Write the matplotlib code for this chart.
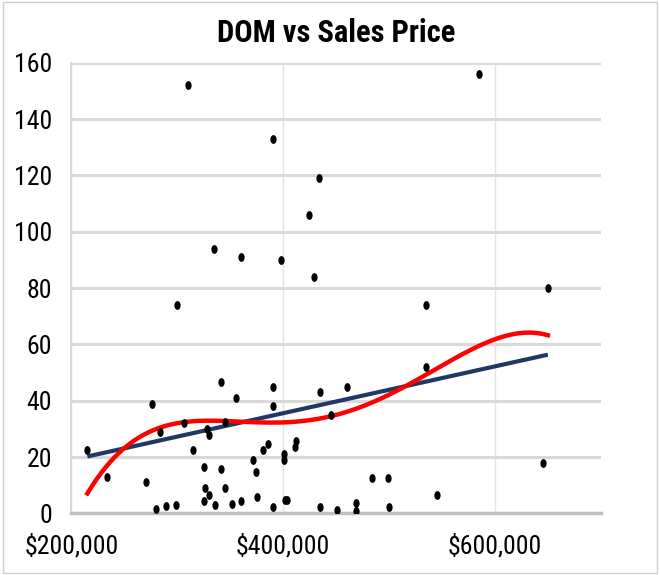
import os
import numpy as np
import matplotlib
matplotlib.use("Agg")
import matplotlib.pyplot as plt
from matplotlib import font_manager as fm
from matplotlib.ticker import FuncFormatter
from matplotlib.patches import Rectangle
from matplotlib.markers import MarkerStyle
from matplotlib.transforms import Affine2D


def pick_font(names):
    files = {os.path.basename(f.fname).lower(): f.fname for f in fm.fontManager.ttflist}
    for n in names:
        if n.lower() in files:
            return fm.FontProperties(fname=files[n.lower()])
    return None


reg_fp = pick_font(["LiberationSansNarrow-Regular.ttf", "ArialNarrow.ttf", "arialn.ttf",
                    "RobotoCondensed-Regular.ttf", "ArchivoNarrow-Regular.ttf",
                    "PTSansNarrow-Regular.ttf", "IBMPlexSansCondensed-Regular.ttf",
                    "FiraSansCondensed-Regular.ttf"])
bold_fp = pick_font(["LiberationSansNarrow-Bold.ttf", "ArialNarrowBold.ttf", "arialnb.ttf",
                     "RobotoCondensed-Bold.ttf", "ArchivoNarrow-Bold.ttf",
                     "PTSansNarrow-Bold.ttf", "IBMPlexSansCondensed-Bold.ttf",
                     "FiraSansCondensed-Bold.ttf"])
if reg_fp is None:
    reg_fp = fm.FontProperties(family='Liberation Sans')
if bold_fp is None:
    bold_fp = fm.FontProperties(family='Liberation Sans', weight='bold')

title = "DOM vs Sales Price"
price = [215000, 234000, 270000, 276000, 280000, 289000, 299000, 306000, 315000, 325000,
         325000, 326000, 328000, 330000, 330000, 336000, 341000, 341000, 345000, 345000,
         352000, 355000, 360000, 371000, 374000, 375000, 381000, 386000, 390000, 390000,
         390000, 401000, 401000, 402000, 404000, 411000, 412000, 435000, 435000, 445000,
         451000, 460000, 469000, 469000, 484000, 499000, 500000, 535000, 545000, 645000,
         284000, 310000, 585000, 390000, 434000, 424000, 335000, 360000, 398000, 429000,
         650000, 300000, 535000]
dom = [22.5, 13, 11, 39, 1.5, 2.5, 3, 32, 22.5, 16.5,
       4.6, 9, 30, 28, 6.5, 3, 46.6, 15.7, 9, 32.6,
       3.3, 41, 4.6, 19, 14.7, 5.7, 22.7, 24.8, 45, 38,
       2.4, 21, 19, 4.7, 4.7, 23.7, 25.8, 43, 2.4, 35,
       1.4, 45, 3.6, 0.8, 12.6, 12.6, 2.4, 52, 6.4, 17.8,
       29, 152, 156, 133, 119, 106, 94, 91, 90, 84,
       80, 74, 74]
x_ticks = [200000, 400000, 600000]
y_ticks = [0, 20, 40, 60, 80, 100, 120, 140, 160]

fig = plt.figure(figsize=(6.6, 5.75), dpi=100)
fig.patches.append(Rectangle((0.004, 0.004), 0.992, 0.992, transform=fig.transFigure,
                             fill=False, edgecolor='#d0d0d0', linewidth=1.0))
ax = fig.add_axes([0.1083, 0.107, 0.802, 0.784])

x = np.array(price, dtype=float)
y = np.array(dom, dtype=float)
ell = MarkerStyle('o', transform=Affine2D().scale(0.85, 1.2))
ax.scatter(x, y, s=28, color='black', marker=ell, zorder=4, linewidths=0)

xs = np.linspace(x.min(), x.max(), 300)
xm = x.mean()
xsd = x.std()
lin = np.polyfit(x, y, 1)
ax.plot(xs, np.polyval(lin, xs), color='#1f3864', lw=3, zorder=3, solid_capstyle='butt')
poly = np.polyfit((x - xm) / xsd, y, 4)
ax.plot(xs, np.polyval(poly, (xs - xm) / xsd), color='#ff0000', lw=3.2, zorder=3)

ax.set_xlim(200000, 700000)
ax.set_ylim(0, 160)
ax.set_xticks(x_ticks)
ax.set_yticks(y_ticks)
ax.xaxis.set_major_formatter(FuncFormatter(lambda v, p: "${:,.0f}".format(v)))
ax.tick_params(axis='both', length=0)
ax.tick_params(axis='y', pad=14)
ax.tick_params(axis='x', pad=15)
for lab in ax.get_xticklabels() + ax.get_yticklabels():
    lab.set_fontproperties(reg_fp)
    lab.set_fontsize(18.5)
ax.grid(axis='y', color='#d9d9d9', lw=2.2, zorder=0)
ax.grid(axis='x', color='#e3e3e3', lw=1.0, zorder=0)
ax.set_axisbelow(True)
for s in ['top', 'right']:
    ax.spines[s].set_visible(False)
ax.spines['left'].set_color('#d9d9d9')
ax.spines['left'].set_linewidth(1.5)
ax.spines['bottom'].set_color('#bfbfbf')
ax.spines['bottom'].set_linewidth(2.5)

fig.text(0.51, 0.942, title, ha='center', va='center', fontproperties=bold_fp, fontsize=22)

fig.savefig("out.png", dpi=100)
